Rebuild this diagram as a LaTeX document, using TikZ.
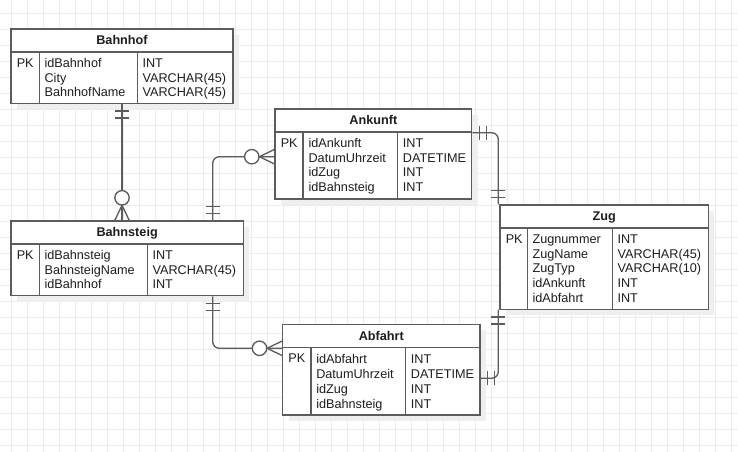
\documentclass[tikz,border=0pt]{standalone}
\usepackage{fontspec}
\setmainfont{Liberation Sans}
\usetikzlibrary{fit}
\definecolor{gridc}{RGB}{236,236,236}
\definecolor{linec}{RGB}{92,92,92}
\definecolor{textc}{RGB}{30,30,30}
\definecolor{shadc}{RGB}{239,239,239}
\tikzset{
  tablebox/.style={draw=linec, line width=1pt, fill=white, inner sep=0pt},
  cell/.style={inner sep=0pt, text=textc, font=\fontsize{9.5}{11}\selectfont},
  titlecell/.style={inner sep=0pt, text=textc, font=\fontsize{9.5}{11}\selectfont\bfseries},
  relline/.style={draw=linec, line width=1pt, rounded corners=5pt},
  relmark/.style={draw=linec, line width=1pt},
  gridline/.style={draw=gridc, line width=0.75pt}
}
\newcommand\ercol[3]{\foreach \t [count=\i from 0] in {#3} {\node[cell, anchor=base west] at (#1, #2+14.8*\i) {\t};}}
\newcommand\ertable[8]{%
  \fill[shadc] (#2+6,#3+6) rectangle (#4+6,#5+6);
  \coordinate (#1-nw) at (#2,#3);
  \coordinate (#1-se) at (#4,#5);
  \node[tablebox, fit=(#1-nw)(#1-se)] (#1) {};
  \draw[relmark] (#2,#3+23) -- (#4,#3+23) (#6,#3+23) -- (#6,#5) (#7,#3+23) -- (#7,#5);
  \node[titlecell, anchor=base] (#1-title) at ({(#2+#4)/2}, #3+16) {#8};
  \node[cell, anchor=base west] (#1-pk) at (#2+5.5, #3+23+15.3) {PK};
}
\newcommand\ermandone[2]{\begin{scope}[shift={(#1)}, rotate=#2]
  \draw[relmark] (5.25pt,-5.25pt) -- (5.25pt,5.25pt) (10.5pt,-5.25pt) -- (10.5pt,5.25pt);
\end{scope}}
\newcommand\erzeromany[2]{\begin{scope}[shift={(#1)}, rotate=#2]
  \draw[relmark] (0pt,-5.4pt) -- (11.25pt,0pt) -- (0pt,5.4pt);
  \draw[relmark, fill=white] (16.9pt,0pt) circle (5.4pt);
\end{scope}}
\begin{document}
\begin{tikzpicture}[x=0.75pt, y=-0.75pt]
\useasboundingbox (0,0) rectangle (738,452);
\fill[white] (0,0) rectangle (738,452);
% grid
\foreach \gx in {0,...,45} {\draw[gridline] (11.7+16*\gx,0) -- (11.7+16*\gx,452);}
\foreach \gy in {0,...,27} {\draw[gridline] (0,13.3+16*\gy) -- (738,13.3+16*\gy);}

% tables
\ertable{bahnhof}{11}{29}{233}{103.3}{39.3}{137.3}{Bahnhof}
\ercol{44.3}{67.3}{idBahnhof,City,BahnhofName}
\ercol{142.3}{67.3}{INT,VARCHAR(45),VARCHAR(45)}

\ertable{bahnsteig}{11}{221}{243.3}{295.7}{39.3}{147.3}{Bahnsteig}
\ercol{44.3}{259.3}{idBahnsteig,BahnsteigName,idBahnhof}
\ercol{152.3}{259.3}{INT,VARCHAR(45),INT}

\ertable{ankunft}{275}{109}{471.7}{199}{303}{397.7}{Ankunft}
\ercol{308.3}{147.3}{idAnkunft,DatumUhrzeit,idZug,idBahnsteig}
\ercol{402.7}{147.3}{INT,DATETIME,INT,INT}

\ertable{zug}{500}{205}{708.3}{309.3}{527.3}{612.3}{Zug}
\ercol{532.3}{243.3}{Zugnummer,ZugName,ZugTyp,idAnkunft,idAbfahrt}
\ercol{617.3}{243.3}{INT,VARCHAR(45),VARCHAR(10),INT,INT}

\ertable{abfahrt}{282.7}{324.3}{480}{415}{311}{405.7}{Abfahrt}
\ercol{316}{363.6}{idAbfahrt,DatumUhrzeit,idZug,idBahnsteig}
\ercol{410.7}{363.6}{INT,DATETIME,INT,INT}

% connector bend points
\coordinate (c1) at (212.7,156.7);
\coordinate (c2) at (212.7,348.3);
\coordinate (c3) at (498.3,132.7);
\coordinate (c4) at (498.3,378.3);

\coordinate (e1a) at (bahnhof.south);
\coordinate (e1b) at (bahnhof.south |- bahnsteig.north);
\coordinate (e2a) at (c1 |- bahnsteig.north);
\coordinate (e2b) at (c1 -| ankunft.west);
\coordinate (e3a) at (c2 |- bahnsteig.south);
\coordinate (e3b) at (c2 -| abfahrt.west);
\coordinate (e4a) at (c3 -| ankunft.east);
\coordinate (e4b) at (c3 |- zug.north);
\coordinate (e5a) at (c4 |- zug.south);
\coordinate (e5b) at (c4 -| abfahrt.east);

\draw[relline] (e1a) -- (e1b);
\draw[relline] (e2a) -- (c1) -- (e2b);
\draw[relline] (e3a) -- (c2) -- (e3b);
\draw[relline] (e4a) -- (c3) -- (e4b);
\draw[relline] (e5a) -- (c4) -- (e5b);

\ermandone{e1a}{-90}
\erzeromany{e1b}{90}
\ermandone{e2a}{90}
\erzeromany{e2b}{180}
\ermandone{e3a}{-90}
\erzeromany{e3b}{180}
\ermandone{e4a}{0}
\ermandone{e4b}{90}
\ermandone{e5a}{-90}
\ermandone{e5b}{0}
\end{tikzpicture}
\end{document}
